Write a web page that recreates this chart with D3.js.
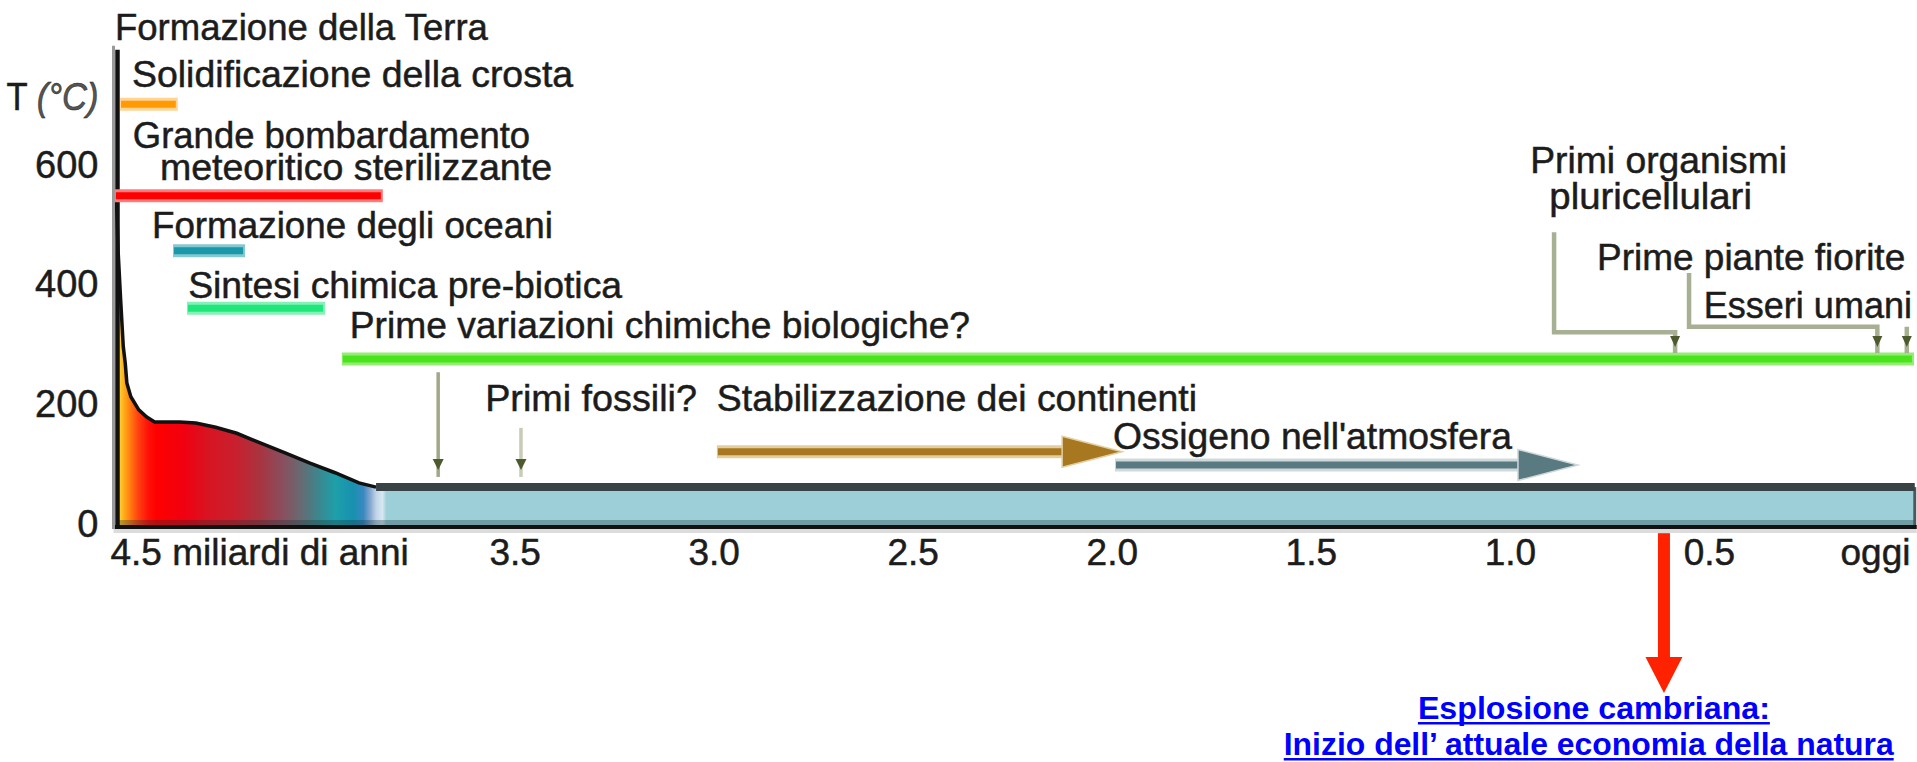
<!DOCTYPE html>
<html lang="it">
<head>
<meta charset="utf-8">
<title>Temperatura della Terra</title>
<script src="https://cdn.jsdelivr.net/npm/d3@7/dist/d3.min.js"></script>
<style>
  html, body { margin: 0; padding: 0; background: #ffffff; }
  svg { display: block; }
  text { font-family: "Liberation Sans", Arial, Helvetica, sans-serif; }
</style>
</head>
<body>
<div id="chart"></div>
<script>
// ---- data: time in billions of years ago (Ga), temperature in °C ----
const tempTime  = [4.500, 4.496, 4.490, 4.483, 4.478, 4.474, 4.464, 4.444, 4.424, 4.404, 4.341, 4.301, 4.251, 4.198, 4.158, 4.075, 4.014, 3.951, 3.891, 3.848, -0.017];
const tempValue = [545, 460, 383, 300, 272, 239, 216, 194, 182, 174, 174, 172, 165, 155, 144, 122, 105, 89, 72, 65, 65];

const xTickValues = [4.5, 3.5, 3.0, 2.5, 2.0, 1.5, 1.0, 0.5, 0];
const xTickLabels = ["4.5 miliardi di anni", "3.5", "3.0", "2.5", "2.0", "1.5", "1.0", "0.5", "oggi"];
const yTickValues = [0, 200, 400, 600];
const yAxisTop = 796;

// time spans (bars), drawn at a level given in plot units
const spanStart = [4.491, 4.504, 4.358, 4.323, 3.934];
const spanEnd   = [4.346, 3.831, 4.177, 3.976, -0.015];
const spanLevel = [705, 552, 460, 364, 279];

// long arrows: continents, oxygen
const arrowStart = [2.992, 1.992];
const arrowEnd   = [1.974, 0.829];
const arrowLevel = [124, 102];

// small down arrows near the first fossils
const markTime = [3.692, 3.484];
const markFrom = [257, 164];
const markTo   = [82, 82];

// elbow connectors on the right (multicellular life, flowering plants, humans)
const linkFromTime  = [0.889, 0.550, 0.003];
const linkFromLevel = [491, 423, 333];
const linkElbow     = [324, 333, 333];
const linkToTime    = [0.585, 0.077, 0.003];
const linkToLevel   = 289;

// annotation texts: left and right edge in Ga, baseline level
const labelText = [
  "Formazione della Terra",
  "Solidificazione della crosta",
  "Grande bombardamento",
  "meteoritico sterilizzante",
  "Formazione degli oceani",
  "Sintesi chimica pre-biotica",
  "Prime variazioni chimiche biologiche?",
  "Primi fossili?",
  "Stabilizzazione dei continenti",
  "Ossigeno nell'atmosfera",
  "Primi organismi",
  "pluricellulari",
  "Prime piante fiorite",
  "Esseri umani"
];
const labelStart = [4.504, 4.461, 4.459, 4.391, 4.411, 4.320, 3.914, 3.574, 2.992, 1.997, 0.949, 0.901, 0.781, 0.513];
const labelEnd   = [3.567, 3.353, 3.461, 3.406, 3.404, 3.230, 2.356, 3.042, 1.786, 0.995, 0.304, 0.392, 0.007, -0.010];
const labelLevel = [812, 734, 632, 578, 481, 381, 314, 192, 192, 129, 590, 530, 428, 348];

// Cambrian explosion call-out
const cambrianTime = 0.613;
const cambrianFrom = -12;
const cambrianHead = -219;
const cambrianTip  = -279;
const cambrianText  = ["Esplosione cambriana:", "Inizio dell\u2019 attuale economia della natura"];
const cambrianStart = [1.231, 1.568];
const cambrianEnd   = [0.347, 0.036];
const cambrianLevel = [-323, -383];

// ---- styles ----
const gradTime  = [4.500, 4.493, 4.480, 4.465, 4.445, 4.420, 4.400, 4.330, 4.270, 4.200, 4.140, 4.080, 4.040, 3.990, 3.950, 3.905, 3.880, 3.862, 3.848, 3.832, 3.822];
const gradColor = ["#e6c85a", "#ffd232", "#ffa818", "#ff7a10", "#ff4010", "#ff1008", "#ff0000", "#f00010", "#d81422", "#c8202e", "#a83440", "#885060", "#6a6870", "#3a8890", "#1ea0aa", "#1890b0", "#3a88c0", "#88a8d0", "#c0d4e8", "#d8e8f0", "#9ccfd8"];
const spanCore  = ["#ff9a00", "#ff0000", "#1898a8", "#1ee87a", "#4ae41c"];
const spanEdge  = ["#ffd494", "#ff7c7c", "#86c8d2", "#86f0b8", "#94ec74"];
const arrowCore = ["#a87820", "#587a80"];
const arrowEdge = ["#e2cea0", "#cfd9db"];
const markLine  = ["#a0a888", "#c8ccb6"];
const textColor = "#1c1c1c";

class TimelineChart {
  constructor(selector) {
    this.width = 1917;
    this.height = 762;
    this.svg = d3.select(selector).append("svg")
      .attr("width", this.width)
      .attr("height", this.height);
    this.x = d3.scaleLinear().domain([4.5, 0]).range([116.5, 1908]);
    this.y = d3.scaleLinear().domain([0, 600]).range([526, 167]);

    this.drawTemperature();
    this.drawAxes();
    this.drawSpans();
    this.drawArrows();
    this.drawLinks();
    this.drawLabels();
    this.drawCambrian();
  }

  drawTemperature() {
    const { svg, x, y } = this;
    const data = tempTime.map((t, i) => ({ t, T: tempValue[i] }));

    // horizontal colour ramp: hot yellow -> red -> teal -> sea blue
    const x1 = x(gradTime[0]), x2 = x(gradTime[gradTime.length - 1]);
    const grad = svg.append("defs").append("linearGradient")
      .attr("id", "tempFill")
      .attr("gradientUnits", "userSpaceOnUse")
      .attr("x1", x1).attr("x2", x2).attr("y1", 0).attr("y2", 0);
    grad.selectAll("stop").data(gradTime).join("stop")
      .attr("offset", d => (x(d) - x1) / (x2 - x1))
      .attr("stop-color", (d, i) => gradColor[i]);

    svg.append("path").datum(data)
      .attr("fill", "url(#tempFill)")
      .attr("d", d3.area().x(d => x(d.t)).y0(y(0)).y1(d => y(d.T)));

    // darker strip along the bottom
    const tEnd = tempTime[tempTime.length - 1];
    svg.append("rect")
      .attr("x", x(4.5)).attr("width", x(tEnd) - x(4.5))
      .attr("y", y(0) - 6).attr("height", 6)
      .attr("fill", "#0a2a30").attr("opacity", 0.3);

    // right end of the band
    svg.append("line")
      .attr("x1", x(tEnd)).attr("x2", x(tEnd))
      .attr("y1", y(65)).attr("y2", y(0))
      .attr("stroke", "#4a5a5e").attr("stroke-width", 3);

    // baseline
    svg.append("line")
      .attr("x1", x(4.5) - 3).attr("x2", x(tEnd) + 2)
      .attr("y1", y(0) + 5).attr("y2", y(0) + 5)
      .attr("stroke", "#dcdcdc").attr("stroke-width", 4);
    svg.append("line")
      .attr("x1", x(4.5) - 3).attr("x2", x(tEnd) + 2)
      .attr("y1", y(0) + 1).attr("y2", y(0) + 1)
      .attr("stroke", "#111").attr("stroke-width", 4);

    // outline of the cooling curve
    svg.append("path").datum(data.filter(d => d.t >= 3.848))
      .attr("fill", "none")
      .attr("stroke", "#111")
      .attr("stroke-width", 3.5)
      .attr("d", d3.line().x(d => x(d.t)).y(d => y(d.T)));

    // top of the ocean band
    svg.append("path").datum(data.filter(d => d.t <= 3.848))
      .attr("fill", "none")
      .attr("stroke", "#394244")
      .attr("stroke-width", 8)
      .attr("d", d3.line().x(d => x(d.t)).y(d => y(d.T)));
  }

  drawAxes() {
    const { svg, x, y } = this;

    // vertical axis line (runs above the last tick)
    svg.append("line")
      .attr("x1", x(4.5) - 3).attr("x2", x(4.5) - 3)
      .attr("y1", y(yAxisTop) - 4).attr("y2", y(0) + 3)
      .attr("stroke", "#9a9a9a").attr("stroke-width", 3);
    svg.append("line")
      .attr("x1", x(4.5) + 1).attr("x2", x(4.5) + 1)
      .attr("y1", y(yAxisTop)).attr("y2", y(0) + 3)
      .attr("stroke", "#111").attr("stroke-width", 4.5);

    const yAxis = svg.append("g")
      .attr("transform", `translate(${x(4.5)},0)`)
      .call(d3.axisLeft(y).tickValues(yTickValues).tickSize(0).tickPadding(18));
    yAxis.select(".domain").remove();
    yAxis.selectAll("text")
      .attr("dy", "0.27em")
      .attr("fill", textColor)
      .attr("stroke", textColor).attr("stroke-width", 0.5)
      .style("font-size", "38px");

    svg.append("text")
      .attr("x", x(4.5) - 18)
      .attr("y", y(695))
      .attr("text-anchor", "end")
      .attr("fill", textColor)
      .attr("stroke", textColor).attr("stroke-width", 0.5)
      .style("font-size", "38px")
      .attr("textLength", 92)
      .attr("lengthAdjust", "spacingAndGlyphs")
      .text("T ")
      .append("tspan").style("font-style", "italic").attr("fill", "#555").text("(\u00b0C)");

    const xAxis = svg.append("g")
      .attr("transform", `translate(0,${y(0)})`)
      .call(d3.axisBottom(x)
        .tickValues(xTickValues)
        .tickFormat((d, i) => xTickLabels[i])
        .tickSize(0)
        .tickPadding(13));
    xAxis.select(".domain").remove();
    const last = xTickLabels.length - 1;
    xAxis.selectAll("text")
      .attr("fill", textColor)
      .attr("stroke", textColor).attr("stroke-width", 0.5)
      .style("font-size", "37px")
      .attr("text-anchor", (d, i) => i === 0 ? "start" : i === last ? "end" : "middle")
      .attr("x", (d, i) => i === 0 ? -6.5 : i === last ? 2 : 0);
  }

  drawSpans() {
    const { svg, x, y } = this;
    const spans = spanStart.map((s, i) => ({ s, e: spanEnd[i], v: spanLevel[i], i }));
    const g = svg.append("g");
    g.selectAll(".span-edge").data(spans).join("line")
      .attr("class", "span-edge")
      .attr("x1", d => x(d.s)).attr("x2", d => x(d.e))
      .attr("y1", d => y(d.v)).attr("y2", d => y(d.v))
      .attr("stroke", d => spanEdge[d.i]).attr("stroke-width", 13);
    g.selectAll(".span-core").data(spans).join("line")
      .attr("class", "span-core")
      .attr("x1", d => x(d.s) + 1).attr("x2", d => x(d.e) - 2)
      .attr("y1", d => y(d.v)).attr("y2", d => y(d.v))
      .attr("stroke", d => spanCore[d.i]).attr("stroke-width", 7);
  }

  drawArrows() {
    const { svg, x, y } = this;
    const headLen = 60, headHalf = 15.5;
    const arrows = arrowStart.map((s, i) => ({ s, e: arrowEnd[i], v: arrowLevel[i], i }));
    const g = svg.append("g");
    g.selectAll(".arrow-edge").data(arrows).join("line")
      .attr("x1", d => x(d.s)).attr("x2", d => x(d.e) - headLen)
      .attr("y1", d => y(d.v)).attr("y2", d => y(d.v))
      .attr("stroke", d => arrowEdge[d.i]).attr("stroke-width", 13);
    g.selectAll(".arrow-core").data(arrows).join("line")
      .attr("x1", d => x(d.s) + 1).attr("x2", d => x(d.e) - headLen + 2)
      .attr("y1", d => y(d.v)).attr("y2", d => y(d.v))
      .attr("stroke", d => arrowCore[d.i]).attr("stroke-width", 7);
    g.selectAll(".arrow-head").data(arrows).join("path")
      .attr("fill", d => arrowCore[d.i])
      .attr("stroke", d => arrowEdge[d.i]).attr("stroke-width", 1.5)
      .attr("d", d => {
        const tx = x(d.e), ty = y(d.v);
        return `M${tx - headLen},${ty - headHalf}L${tx},${ty}L${tx - headLen},${ty + headHalf}Z`;
      });

    // small down arrows
    const marks = markTime.map((t, i) => ({ t, a: markFrom[i], b: markTo[i], i }));
    g.selectAll(".mark").data(marks).join("line")
      .attr("x1", d => x(d.t)).attr("x2", d => x(d.t))
      .attr("y1", d => y(d.a)).attr("y2", d => y(d.b))
      .attr("stroke", d => markLine[d.i]).attr("stroke-width", 3.5);
    g.selectAll(".mark-head").data(marks).join("path")
      .attr("fill", "#4d5a2e")
      .attr("d", d => this.downHead(x(d.t), y(d.b) - 7, 5.5, 11));
  }

  downHead(cx, tipY, half, len) {
    return `M${cx - half},${tipY - len}L${cx + half},${tipY - len}L${cx},${tipY}Z`;
  }

  drawLinks() {
    const { svg, x, y } = this;
    const links = linkFromTime.map((t, i) => ({
      t0: t, v0: linkFromLevel[i], ve: linkElbow[i], t1: linkToTime[i]
    }));
    const g = svg.append("g");
    g.selectAll("path.link").data(links).join("path")
      .attr("class", "link")
      .attr("fill", "none")
      .attr("stroke", "#a8b094")
      .attr("stroke-width", 4.5)
      .attr("d", d => `M${x(d.t0)},${y(d.v0)}V${y(d.ve)}H${x(d.t1)}V${y(linkToLevel)}`);
    g.selectAll("path.link-head").data(links).join("path")
      .attr("class", "link-head")
      .attr("fill", "#4d5a2e")
      .attr("d", d => this.downHead(x(d.t1), y(linkToLevel) - 6, 5, 11));
  }

  drawLabels() {
    const { svg, x, y } = this;
    const labels = labelText.map((txt, i) => ({ txt, s: labelStart[i], e: labelEnd[i], v: labelLevel[i] }));
    svg.append("g").selectAll("text").data(labels).join("text")
      .attr("x", d => x(d.s))
      .attr("y", d => y(d.v))
      .attr("fill", textColor)
      .attr("stroke", textColor).attr("stroke-width", 0.5)
      .style("font-size", "37px")
      .attr("textLength", d => x(d.e) - x(d.s))
      .attr("lengthAdjust", "spacingAndGlyphs")
      .text(d => d.txt);
  }

  drawCambrian() {
    const { svg, x, y } = this;
    const cx = x(cambrianTime);
    svg.append("rect")
      .attr("x", cx - 6).attr("width", 12)
      .attr("y", y(cambrianFrom)).attr("height", y(cambrianHead) - y(cambrianFrom) + 1)
      .attr("fill", "#ff2200");
    svg.append("path")
      .attr("fill", "#ff2200")
      .attr("d", `M${cx - 18.5},${y(cambrianHead)}L${cx + 18.5},${y(cambrianHead)}L${cx},${y(cambrianTip)}Z`);

    const lines = cambrianText.map((txt, i) => ({ txt, s: cambrianStart[i], e: cambrianEnd[i], v: cambrianLevel[i] }));
    const g = svg.append("g");
    g.selectAll("text").data(lines).join("text")
      .attr("x", d => x(d.s))
      .attr("y", d => y(d.v))
      .attr("fill", "#0000ff")
      .style("font-size", "32px")
      .style("font-weight", "bold")
      .attr("textLength", d => x(d.e) - x(d.s))
      .attr("lengthAdjust", "spacingAndGlyphs")
      .text(d => d.txt);
    // underline
    g.selectAll("line").data(lines).join("line")
      .attr("x1", d => x(d.s)).attr("x2", d => x(d.e))
      .attr("y1", d => y(d.v) + 4).attr("y2", d => y(d.v) + 4)
      .attr("stroke", "#0000ff").attr("stroke-width", 2.5);
  }
}

const chart = new TimelineChart("#chart");
</script>
</body>
</html>
